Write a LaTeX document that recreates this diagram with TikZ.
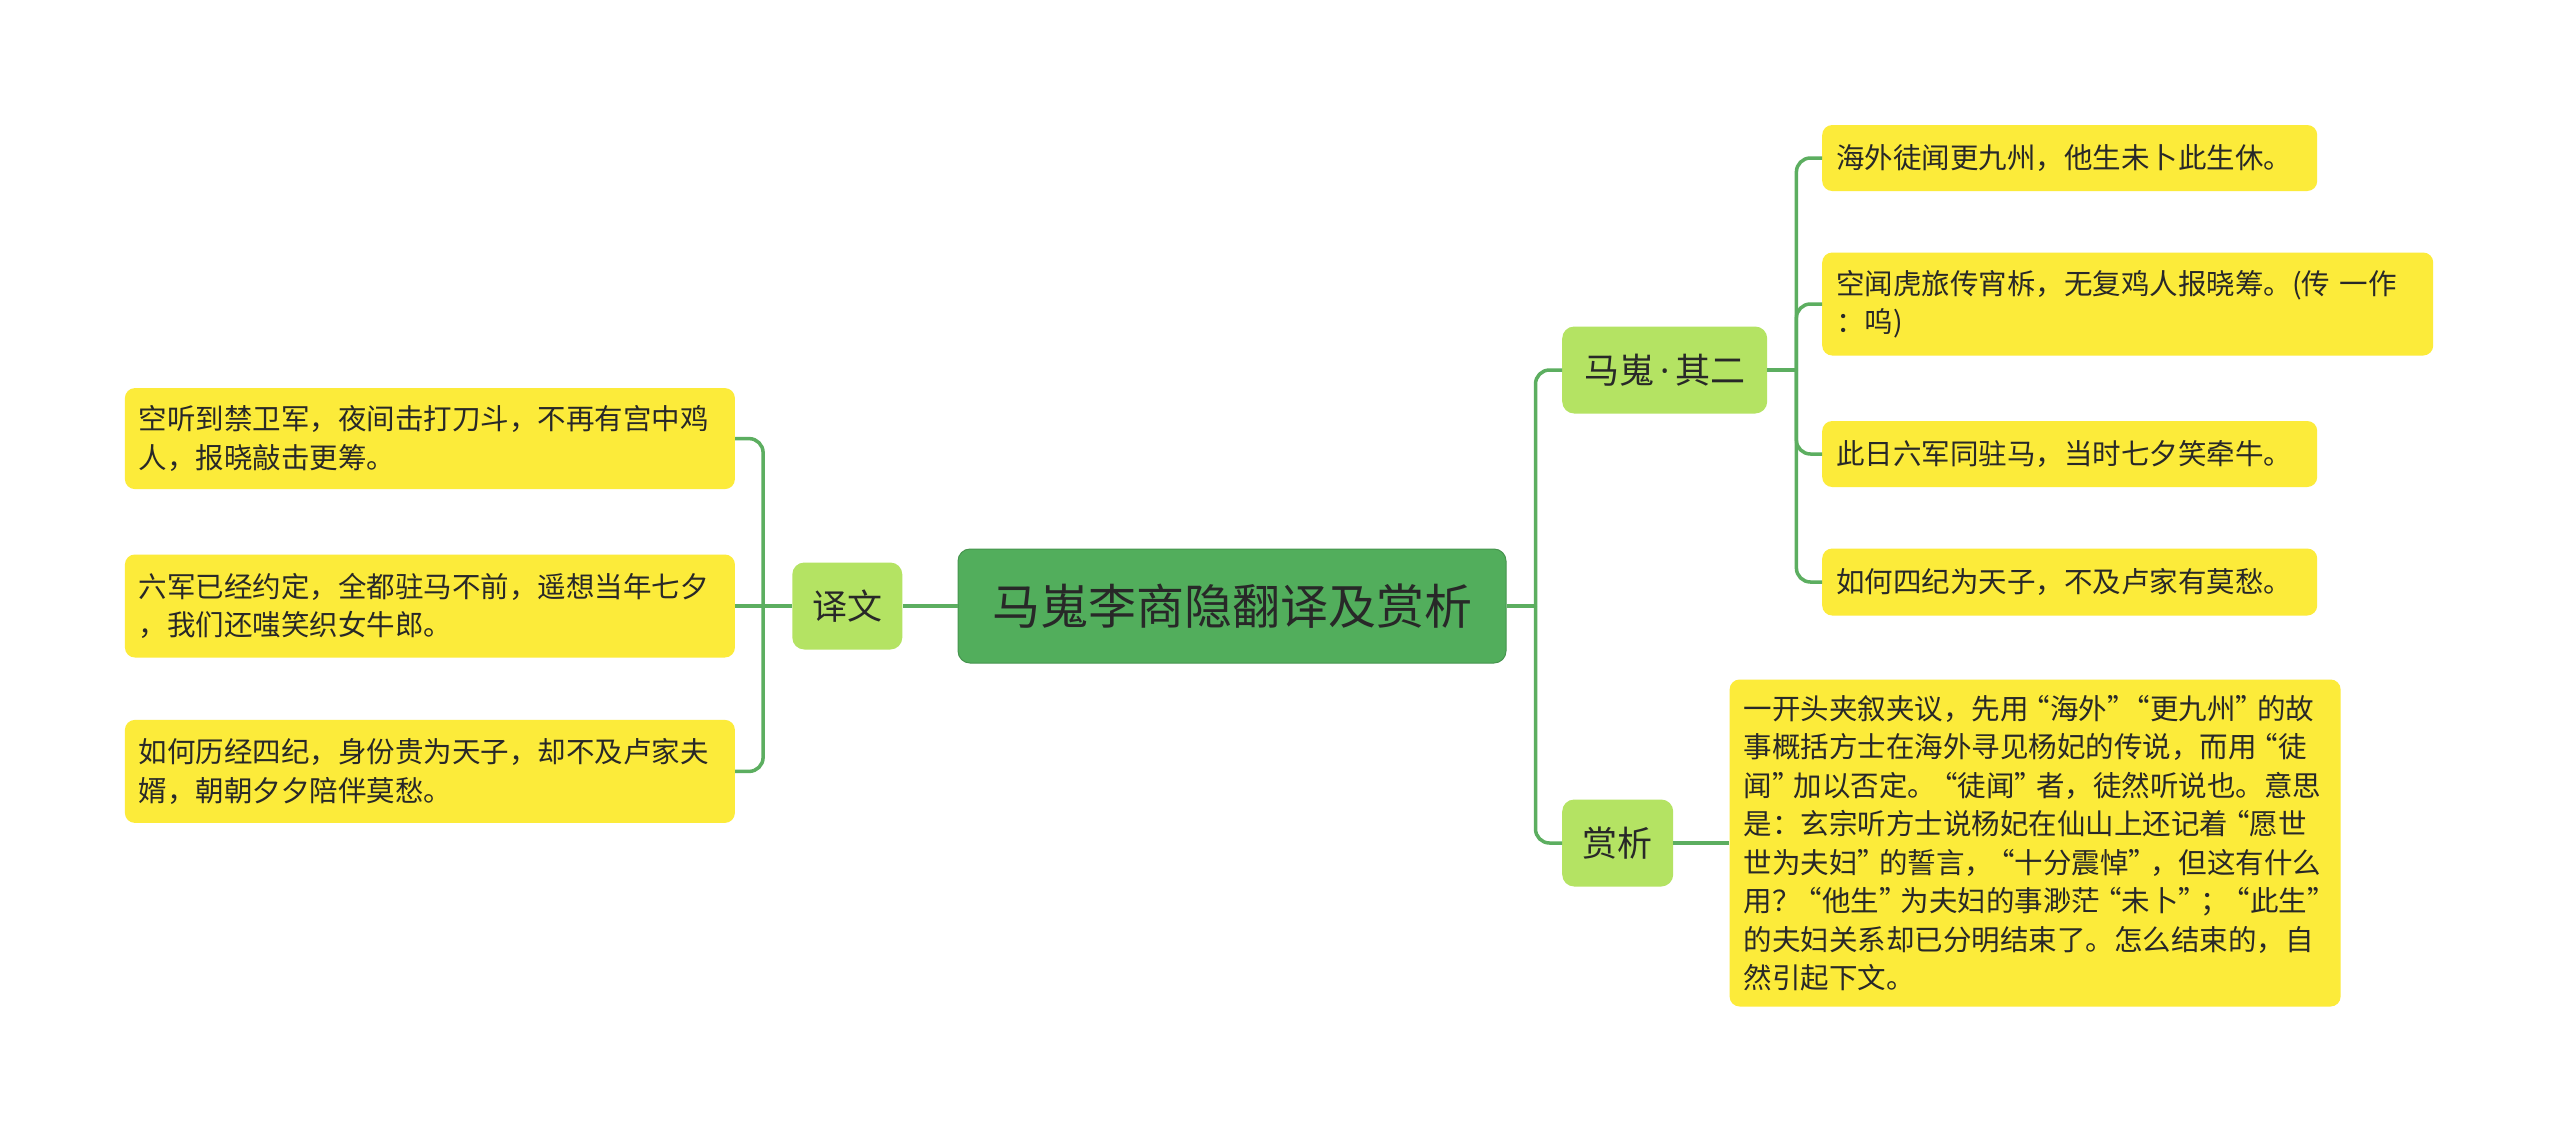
\documentclass[tikz,border=0pt]{standalone}
\usepackage{fontspec}
\usepackage{xcolor}
\usepackage{tikz}
\usetikzlibrary{positioning}
\newfontfamily\cjk{Noto Sans CJK SC}
\newfontfamily\narrowpunct{Noto Sans}
\newcommand\oq{\kern-7pt“}
\newcommand\cq{”\kern-7pt}
\newcommand\middot{{\narrowpunct\,·\,}}
\definecolor{rootgreen}{RGB}{82,174,92}
\definecolor{subgreen}{RGB}{180,227,99}
\definecolor{leafyellow}{RGB}{252,235,58}
\definecolor{linkgreen}{RGB}{92,174,96}
\definecolor{inkgray}{RGB}{40,40,40}

\tikzset{
  rootbox/.style={fill=rootgreen,draw=rootgreen!85!black,line width=1pt,rounded corners=12pt,
    minimum width=548pt,minimum height=114pt,font=\cjk\fontsize{48}{56}\selectfont,text=inkgray},
  subbox/.style={fill=subgreen,rounded corners=12pt,minimum height=87pt,minimum width=110pt,
    font=\cjk\fontsize{35}{42}\selectfont,text=inkgray},
  leafbox/.style={fill=leafyellow,rounded corners=10pt,align=left,inner xsep=14pt,inner ysep=0pt,
    font=\cjk\fontsize{28.5}{38.5}\selectfont,text=inkgray},
  link/.style={draw=linkgreen,line width=3.5pt,rounded corners=14pt},
}

\begin{document}
\begin{tikzpicture}[x=1pt,y=-1pt]
\useasboundingbox[fill=white](0,0) rectangle (2560,1133);

\node[rootbox](root) at (1232,606){马嵬李商隐翻译及赏析};

% left branch
\node[subbox,left=55pt of root](yiwen){译文};
\node[leafbox,text width=582pt,minimum height=103pt,left=57pt of yiwen](L2){六军已经约定，全都驻马不前，遥想当年七夕\\，我们还嗤笑织女牛郎。};
\node[leafbox,text width=582pt,minimum height=101pt,above=65pt of L2](L1){空听到禁卫军，夜间击打刀斗，不再有宫中鸡\\人，报晓敲击更筹。};
\node[leafbox,text width=582pt,minimum height=103pt,below=62pt of L2](L3){如何历经四纪，身份贵为天子，却不及卢家夫\\婿，朝朝夕夕陪伴莫愁。};

% right branch
\node[subbox,minimum width=205pt,anchor=west](qier) at (1562,370){马嵬\middot 其二};
\node[subbox,minimum width=111pt,anchor=west](shangxi) at (1562,843){赏析};

\node[leafbox,text width=467pt,minimum height=66pt,anchor=west](R1) at (1822,158){海外徒闻更九州，他生未卜此生休。};
\node[leafbox,text width=583pt,minimum height=103pt,anchor=west](R2) at (1822,304){空闻虎旅传宵柝，无复鸡人报晓筹。(传 一作\\：呜)};
\node[leafbox,text width=467pt,minimum height=66pt,anchor=west](R3) at (1822,454){此日六军同驻马，当时七夕笑牵牛。};
\node[leafbox,text width=467pt,minimum height=67pt,anchor=west](R4) at (1822,582){如何四纪为天子，不及卢家有莫愁。};

\node[leafbox,text width=583pt,minimum height=327pt,right=56pt of shangxi](S){一开头夹叙夹议，先用\oq 海外\cq\oq 更九州\cq 的故\\事概括方士在海外寻见杨妃的传说，而用\oq 徒\\闻\cq 加以否定。\oq 徒闻\cq 者，徒然听说也。意思\\是：玄宗听方士说杨妃在仙山上还记着\oq 愿世\\世为夫妇\cq 的誓言，\oq 十分震悼\cq ，但这有什么\\用？\oq 他生\cq 为夫妇的事渺茫\oq 未卜\cq ；\oq 此生\cq\\的夫妇关系却已分明结束了。怎么结束的，自\\然引起下文。};

% connectors
\coordinate (busL) at ([xshift=-29pt]yiwen.west);
\draw[link](root.west)--(yiwen.east);
\draw[link](yiwen.west)--(L2.east);
\draw[link](busL)|-(L1.east);
\draw[link](busL)|-(L3.east);

\coordinate (busR) at ([xshift=29pt]root.east);
\draw[link](root.east)--(busR);
\draw[link](busR)|-(qier.west);
\draw[link](busR)|-(shangxi.west);

\coordinate (busQ) at ([xshift=29pt]qier.east);
\draw[link](qier.east)--(busQ);
\draw[link](busQ)|-(R1.west);
\draw[link](busQ)|-(R2.west);
\draw[link](busQ)|-(R3.west);
\draw[link](busQ)|-(R4.west);

\draw[link](shangxi.east)--(S.west);
\end{tikzpicture}
\end{document}
